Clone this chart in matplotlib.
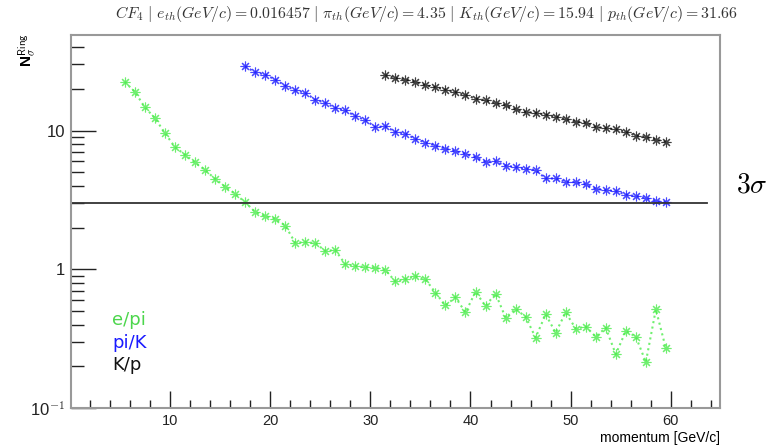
import numpy as np
import matplotlib
matplotlib.use("Agg")
import matplotlib.pyplot as plt
from matplotlib.ticker import FixedLocator, MultipleLocator, NullFormatter

# separation power N_sigma vs momentum for the three particle pairs
p_epi = np.arange(5.5, 60.0, 1.0)
n_epi = [22.4, 19.0, 14.7, 12.3, 9.6, 7.6, 6.7, 5.9, 5.2, 4.5,
         3.95, 3.5, 3.05, 2.6, 2.42, 2.32, 2.07, 1.56, 1.57, 1.55,
         1.36, 1.38, 1.09, 1.06, 1.04, 1.03, 0.99, 0.82, 0.85, 0.89,
         0.85, 0.68, 0.55, 0.63, 0.49, 0.69, 0.545, 0.67, 0.45, 0.52,
         0.455, 0.323, 0.475, 0.35, 0.49, 0.375, 0.387, 0.328, 0.38, 0.245,
         0.36, 0.328, 0.215, 0.515, 0.27]

p_piK = np.arange(17.5, 60.0, 1.0)
n_piK = [29.0, 26.3, 25.3, 23.3, 21.1, 19.5, 18.7, 16.7, 15.8, 14.6,
         14.0, 12.7, 11.9, 10.6, 10.7, 9.8, 9.5, 8.7, 8.2, 7.8,
         7.4, 7.1, 6.8, 6.4, 5.95, 6.0, 5.6, 5.45, 5.33, 5.18,
         4.52, 4.52, 4.27, 4.25, 4.09, 3.81, 3.72, 3.66, 3.46, 3.37,
         3.28, 3.10, 3.05]

p_Kp = np.arange(31.5, 60.0, 1.0)
n_Kp = [25.0, 23.9, 23.3, 22.4, 21.2, 20.5, 19.7, 18.9, 18.0, 17.0,
        16.5, 15.8, 15.2, 14.2, 13.6, 13.4, 13.0, 12.6, 12.1, 11.6,
        11.4, 10.6, 10.4, 10.2, 9.8, 9.2, 9.0, 8.6, 8.3]

series = [("e/pi", p_epi, n_epi, "#4cec4c", "#4cd64c"),
          ("pi/K", p_piK, n_piK, "#1a1aff", "#1a1aff"),
          ("K/p", p_Kp, n_Kp, "#111111", "#111111")]

nsigma_cut = 3.0
title = (r"$CF_4\ |\ e_{th}(GeV/c) = 0.016457\ |\ \pi_{th}(GeV/c) = 4.35\ |\ "
         r"K_{th}(GeV/c) = 15.94\ |\ p_{th}(GeV/c) = 31.66$")

plt.rcParams["font.family"] = ["Liberation Sans", "DejaVu Sans"]
plt.rcParams["mathtext.fontset"] = "cm"

fig = plt.figure(figsize=(7.73, 4.45), dpi=100)
ax = fig.add_axes([0.0915, 0.0825, 0.8399, 0.8395])

for name, p, n, c, tc in series:
    ax.plot(p, n, linestyle=":", linewidth=1.5, color=c, marker=(8, 2, 0),
            markersize=7, markeredgewidth=0.8, alpha=0.8)

ax.plot([0.1, 63.6], [nsigma_cut, nsigma_cut], color="#333333", linewidth=1.3)

ax.set_yscale("log")
ax.set_xlim(0.1, 64.9)
ax.set_ylim(0.1, 49)

ax.xaxis.set_major_locator(MultipleLocator(10))
ax.xaxis.set_minor_locator(MultipleLocator(2))
ax.yaxis.set_major_locator(FixedLocator([0.1, 1, 10]))
ax.set_yticklabels([r"10$^{-1}$", "1", "10"])
ax.yaxis.set_minor_locator(FixedLocator(
    [k * 10.0 ** e for e in (-1, 0, 1) for k in range(2, 10)]))
ax.yaxis.set_minor_formatter(NullFormatter())

ax.tick_params(which="both", direction="in", top=False, right=False,
               colors="#222222")
ax.tick_params(axis="x", which="major", length=12, width=1, pad=4,
               labelsize=10.5)
ax.tick_params(axis="x", which="minor", length=6, width=1)
ax.tick_params(axis="y", which="major", length=18, width=1, pad=4,
               labelsize=12)
ax.tick_params(axis="y", which="minor", length=9, width=1)
for s in ax.spines.values():
    s.set_color("#999999")
    s.set_linewidth(1.5)

fig.text(0.552, 0.968, title, ha="center", va="center", fontsize=11.4,
         color="#333333")
ax.set_xlabel("momentum [GeV/c]", loc="right", fontsize=10, labelpad=2)
fig.text(0.036, 0.925, r"N$_{\sigma}^{\mathsf{Ring}}$", rotation=90,
         fontsize=11, fontweight="bold", ha="center", va="top")

fig.text(0.952, 0.584, r"$3\sigma$", fontsize=20, ha="left", va="center")

leg_y = [0.281, 0.229, 0.180]
for (name, p, n, c, tc), y in zip(series, leg_y):
    fig.text(0.145, y, name, color=tc, fontsize=13, family="DejaVu Sans",
             ha="left", va="center")

fig.savefig("out.png", dpi=100)
